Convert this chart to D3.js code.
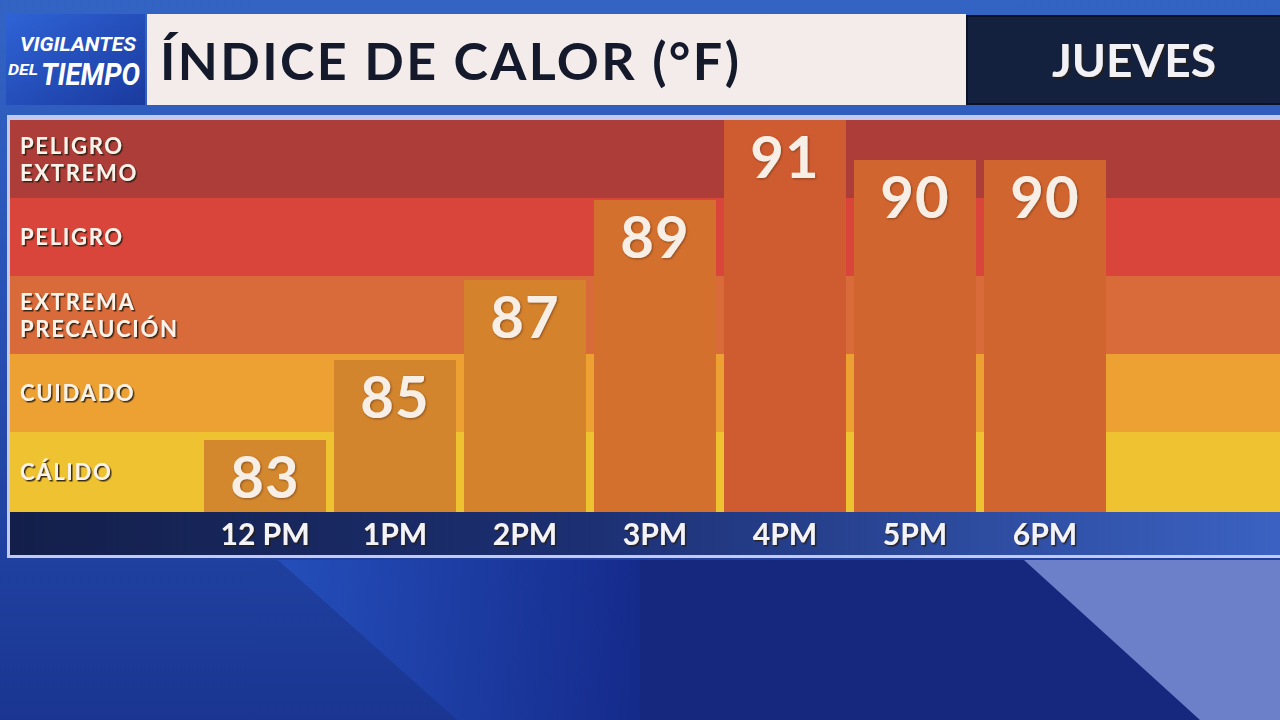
<!DOCTYPE html>
<html>
<head>
<meta charset="utf-8">
<script src="https://cdn.jsdelivr.net/npm/d3@7"></script>
<style>
  body { margin: 0; background: #1d3b9c; overflow: hidden; }
  svg { display: block; font-family: Lato, "Open Sans", sans-serif; }
</style>
</head>
<body>
<div id="chart"></div>
<script>
(function () {

  var hours = ['12 PM', '1PM', '2PM', '3PM', '4PM', '5PM', '6PM']
  var values = [83, 85, 87, 89, 91, 90, 90]
  var barColors = ['#d4882e', '#d3852d', '#d5822c', '#d4702e', '#cf5c30', '#d1652f', '#d1652f']

  var bandNames = [['CÁLIDO'], ['CUIDADO'], ['EXTREMA', 'PRECAUCIÓN'], ['PELIGRO'], ['PELIGRO', 'EXTREMO']]
  var bandEdges = [81.2, 83.2, 85.15, 87.1, 89.05, 91]
  var bandColors = ['#efc232', '#eea133', '#d96a3a', '#d9453a', '#ad3d39']

  var title = 'ÍNDICE DE CALOR (°F)'
  var day = 'JUEVES'

  var width = 1280,
      height = 720

  var plot = { left: 10, right: 1280, top: 120, bottom: 512 }

  var svg = d3.select('#chart').append('svg')
    .attr('width', width)
    .attr('height', height)

  var defs = svg.append('defs')

  var bg = defs.append('linearGradient').attr('id', 'bg')
    .attr('x1', 0).attr('y1', 0).attr('x2', 0).attr('y2', 1)
  bg.append('stop').attr('offset', '0%').attr('stop-color', '#3364c4')
  bg.append('stop').attr('offset', '35%').attr('stop-color', '#2a55b8')
  bg.append('stop').attr('offset', '100%').attr('stop-color', '#1a3592')

  var axisGrad = defs.append('linearGradient').attr('id', 'axisbg')
  axisGrad.append('stop').attr('offset', '0%').attr('stop-color', '#131f4a')
  axisGrad.append('stop').attr('offset', '45%').attr('stop-color', '#1c2f72')
  axisGrad.append('stop').attr('offset', '100%').attr('stop-color', '#3b62c2')

  var logoGrad = defs.append('linearGradient').attr('id', 'logobg')
    .attr('x1', 0).attr('y1', 0).attr('x2', 1).attr('y2', 1)
  logoGrad.append('stop').attr('offset', '0%').attr('stop-color', '#2f63d6')
  logoGrad.append('stop').attr('offset', '100%').attr('stop-color', '#1a3a9e')

  var wedge = defs.append('linearGradient').attr('id', 'wedge')
    .attr('x1', 0).attr('y1', 0).attr('x2', 1).attr('y2', 0)
  wedge.append('stop').attr('offset', '0%').attr('stop-color', '#2550bd')
  wedge.append('stop').attr('offset', '100%').attr('stop-color', '#14298a')

  var shadow = defs.append('filter').attr('id', 'shadow')
    .attr('x', '-10%').attr('y', '-10%').attr('width', '130%').attr('height', '140%')
  shadow.append('feDropShadow')
    .attr('dx', 1.5).attr('dy', 1.5).attr('stdDeviation', 0.6)
    .attr('flood-color', '#2a1a10').attr('flood-opacity', 0.9)

  var soft = defs.append('filter').attr('id', 'soft')
  soft.append('feDropShadow')
    .attr('dx', 1).attr('dy', 1).attr('stdDeviation', 0.8)
    .attr('flood-color', '#5a2a10').attr('flood-opacity', 0.6)

  // background
  svg.append('rect')
    .attr('width', width).attr('height', height)
    .attr('fill', 'url(#bg)')

  svg.append('polygon')
    .attr('points', '278,560 640,560 640,720 457,720')
    .attr('fill', 'url(#wedge)')
    .attr('opacity', 0.9)
  svg.append('polygon')
    .attr('points', '640,560 1024,560 1200,720 640,720')
    .attr('fill', '#15287e')
  svg.append('polygon')
    .attr('points', '1024,560 1280,560 1280,720 1200,720')
    .attr('fill', '#6b80c8')

  // header
  var header = svg.append('g')

  header.append('rect')
    .attr('x', 6).attr('y', 14).attr('width', 139).attr('height', 91)
    .attr('fill', 'url(#logobg)')

  var logoFont = 'Roboto, sans-serif'
  header.append('text')
    .attr('x', 20).attr('y', 51)
    .attr('textLength', 116).attr('lengthAdjust', 'spacingAndGlyphs')
    .style('font-style', 'italic').style('font-weight', 700)
    .style('font-size', '20px').style('font-family', logoFont)
    .attr('fill', '#ffffff')
    .text('VIGILANTES')
  header.append('text')
    .attr('x', 8).attr('y', 75)
    .attr('textLength', 30).attr('lengthAdjust', 'spacingAndGlyphs')
    .style('font-style', 'italic').style('font-weight', 700)
    .style('font-size', '14px').style('font-family', logoFont)
    .attr('fill', '#ffffff')
    .text('DEL')
  header.append('text')
    .attr('x', 41).attr('y', 85)
    .attr('textLength', 99).attr('lengthAdjust', 'spacingAndGlyphs')
    .style('font-style', 'italic').style('font-weight', 700)
    .style('font-size', '32px').style('font-family', logoFont)
    .attr('fill', '#ffffff')
    .text('TIEMPO')

  header.append('rect')
    .attr('x', 147).attr('y', 14).attr('width', 819).attr('height', 91)
    .attr('fill', '#f4ecea')

  header.append('text')
    .attr('x', 160).attr('y', 80)
    .style('font-weight', 700).style('font-size', '52px')
    .style('letter-spacing', '2.4px')
    .attr('fill', '#141a2c')
    .text(title)

  header.append('rect')
    .attr('x', 967).attr('y', 16).attr('width', 320).attr('height', 88)
    .attr('fill', '#14213e')
    .attr('stroke', '#0b1226').attr('stroke-width', 2)

  header.append('text')
    .attr('x', 1134).attr('y', 77)
    .attr('text-anchor', 'middle')
    .style('font-weight', 700).style('font-size', '46px')
    .attr('fill', '#f2f2f6')
    .attr('filter', 'url(#shadow)')
    .text(day)

  // chart frame
  svg.append('rect')
    .attr('x', 7).attr('y', 115).attr('width', 1280).attr('height', 443)
    .attr('fill', '#c3caef')

  var yScale = d3.scaleLinear()
    .domain([bandEdges[0], bandEdges[bandEdges.length - 1]])
    .range([plot.bottom, plot.top])

  var xScale = d3.scaleBand()
    .domain(hours)
    .range([200, 1110])
    .paddingInner(8 / 130)
    .paddingOuter(4 / 130)

  var bands = bandNames.map(function (names, i) {
    return { names: names, lo: bandEdges[i], hi: bandEdges[i + 1], color: bandColors[i] }
  })

  svg.selectAll('.band')
    .data(bands)
    .enter().append('rect')
    .attr('class', 'band')
    .attr('x', plot.left)
    .attr('width', plot.right - plot.left)
    .attr('y', function (d) { return yScale(d.hi) })
    .attr('height', function (d) { return yScale(d.lo) - yScale(d.hi) })
    .attr('fill', function (d) { return d.color })

  // one text per line so the two-line labels stay apart
  var lineGap = 27
  var lines = []
  bands.forEach(function (d) {
    var mid = (yScale(d.lo) + yScale(d.hi)) / 2
    d.names.forEach(function (name, i) {
      lines.push({ text: name, y: mid + 8 - (d.names.length - 1) * lineGap / 2 + i * lineGap })
    })
  })

  svg.selectAll('.band-label')
    .data(lines)
    .enter().append('text')
    .attr('class', 'band-label')
    .attr('x', 20)
    .attr('y', function (d) { return d.y })
    .style('font-weight', 700).style('font-size', '22px')
    .style('letter-spacing', '1.7px')
    .attr('fill', '#fbf3ea')
    .attr('filter', 'url(#shadow)')
    .text(function (d) { return d.text })

  // bars
  var data = hours.map(function (h, i) {
    return { hour: h, value: values[i], color: barColors[i] }
  })

  svg.selectAll('.bar')
    .data(data)
    .enter().append('rect')
    .attr('class', 'bar')
    .attr('x', function (d) { return xScale(d.hour) })
    .attr('width', xScale.bandwidth())
    .attr('y', function (d) { return yScale(d.value) })
    .attr('height', function (d) { return plot.bottom - yScale(d.value) })
    .attr('fill', function (d) { return d.color })

  svg.selectAll('.value')
    .data(data)
    .enter().append('text')
    .attr('class', 'value')
    .attr('x', function (d) { return xScale(d.hour) + xScale.bandwidth() / 2 })
    .attr('y', function (d) { return yScale(d.value) + 58 })
    .attr('text-anchor', 'middle')
    .style('font-weight', 700).style('font-size', '58px')
    .style('letter-spacing', '1px')
    .attr('fill', '#f7eee6')
    .attr('filter', 'url(#soft)')
    .text(function (d) { return d.value })

  // x axis strip
  svg.append('rect')
    .attr('x', plot.left).attr('y', plot.bottom)
    .attr('width', plot.right - plot.left).attr('height', 43)
    .attr('fill', 'url(#axisbg)')

  var xAxis = d3.axisBottom(xScale)
    .tickSize(0)
    .tickPadding(0)

  var axisG = svg.append('g')
    .attr('class', 'axis x-axis')
    .attr('transform', 'translate(0,' + plot.bottom + ')')
    .call(xAxis)

  axisG.select('.domain').remove()
  axisG.selectAll('text')
    .attr('y', 33)
    .attr('dy', 0)
    .style('font-family', 'Lato, sans-serif')
    .style('font-weight', 700)
    .style('font-size', '30px')
    .attr('fill', '#f4f4f8')
    .attr('filter', 'url(#shadow)')

})()
</script>
</body>
</html>
